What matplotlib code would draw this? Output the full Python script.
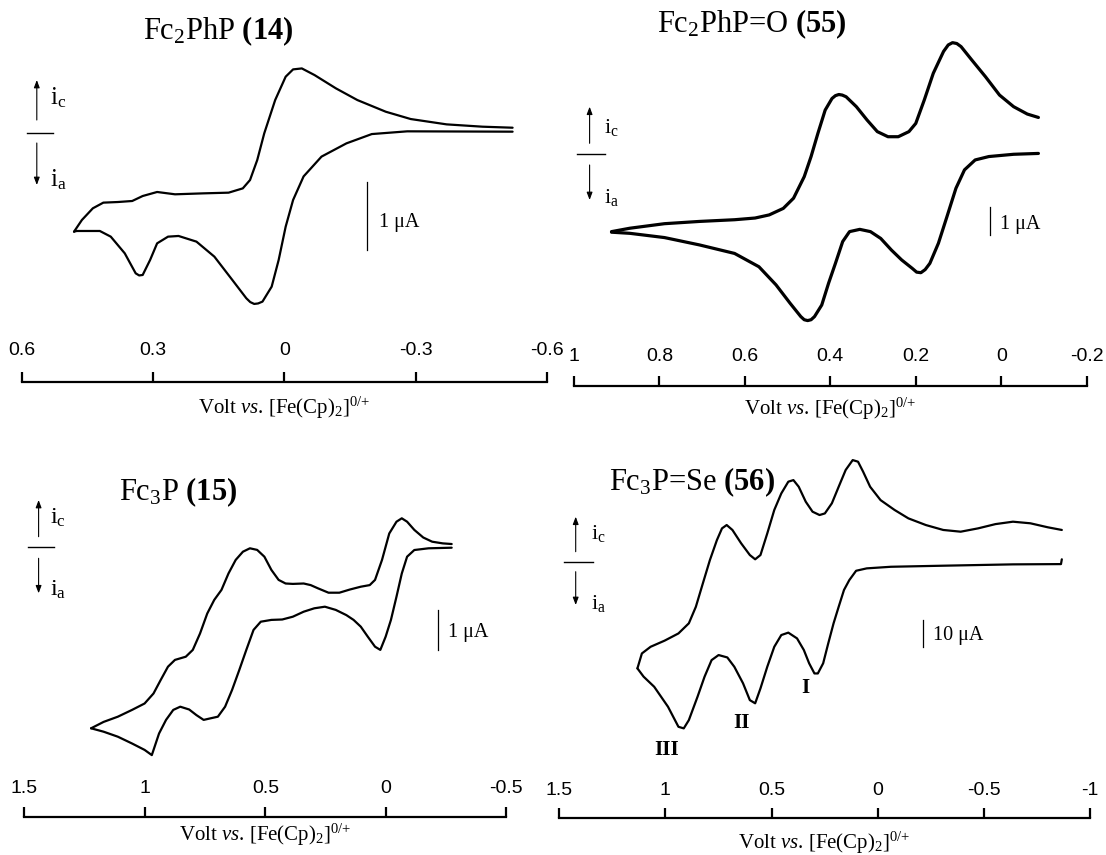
import matplotlib
matplotlib.use("Agg")
import matplotlib.pyplot as plt
from matplotlib import font_manager
from matplotlib.lines import Line2D
from matplotlib.patches import FancyArrowPatch
from matplotlib.transforms import blended_transform_factory, offset_copy

# ---------------- data: potential (V vs Fc/Fc+) and current (uA) ----------------
# Fc2PhP (14): oxidative sweep (lower trace) and return sweep (upper trace)
fc2php_ox_e = [-0.522, -0.281, -0.20, -0.142, -0.085, -0.044, -0.02, -0.003, 0.013, 0.029,
               0.05, 0.06, 0.069, 0.078, 0.087, 0.119, 0.16, 0.201, 0.242, 0.266, 0.291,
               0.307, 0.324, 0.332, 0.34, 0.365, 0.397, 0.422, 0.475, 0.481]
fc2php_ox_i = [0.015, 0.02, -0.02, -0.156, -0.35, -0.64, -0.985, -1.376, -1.863, -2.254,
               -2.473, -2.50, -2.507, -2.48, -2.424, -2.156, -1.815, -1.595, -1.512, -1.522, -1.62,
               -1.863, -2.083, -2.09, -2.059, -1.766, -1.522, -1.439, -1.439, -1.449]
fc2php_red_e = [0.481, 0.463, 0.438, 0.414, 0.381, 0.348, 0.324, 0.291, 0.25, 0.185, 0.1275,
                0.095, 0.0785, 0.062, 0.046, 0.021, -0.003, -0.02, -0.04, -0.069, -0.118,
                -0.167, -0.232, -0.289, -0.371, -0.453, -0.522]
fc2php_red_i = [-1.449, -1.278, -1.107, -1.024, -1.015, -1.0, -0.927, -0.868, -0.902, -0.888,
                -0.878, -0.815, -0.693, -0.4, -0.01, 0.478, 0.82, 0.927, 0.941, 0.844, 0.649,
                0.478, 0.307, 0.2, 0.122, 0.088, 0.073]

# Fc2PhP=O (55)
fc2ppo_red_e = [0.912, 0.869, 0.788, 0.706, 0.624, 0.576, 0.543, 0.51, 0.486, 0.461, 0.445,
                0.429, 0.412, 0.396, 0.388, 0.38, 0.372, 0.363, 0.339, 0.314, 0.29, 0.265,
                0.241, 0.216, 0.20, 0.18, 0.159, 0.135, 0.124, 0.114, 0.104, 0.094, 0.069,
                0.037, 0.004, -0.029, -0.061, -0.087]
fc2ppo_red_i = [-2.74, -2.62, -2.46, -2.38, -2.32, -2.26, -2.15, -1.92, -1.56, -0.80, -0.09,
                0.73, 1.55, 1.96, 2.06, 2.10, 2.08, 2.02, 1.67, 1.20, 0.79, 0.61,
                0.61, 0.79, 1.08, 1.91, 2.85, 3.62, 3.85, 3.93, 3.90, 3.79, 3.32,
                2.73, 2.08, 1.67, 1.41, 1.29]
fc2ppo_ox_e = [-0.087, -0.029, 0.029, 0.061, 0.086, 0.106, 0.127, 0.147, 0.167, 0.178, 0.188,
               0.198, 0.208, 0.233, 0.257, 0.282, 0.306, 0.331, 0.355, 0.371, 0.388, 0.404,
               0.42, 0.437, 0.445, 0.453, 0.461, 0.469, 0.494, 0.527, 0.567, 0.624, 0.706,
               0.788, 0.869, 0.912]
fc2ppo_ox_i = [0.02, -0.01, -0.09, -0.21, -0.56, -1.21, -2.21, -3.15, -3.86, -4.08, -4.19,
               -4.17, -4.04, -3.74, -3.39, -2.98, -2.74, -2.66, -2.74, -3.09, -3.86, -4.56,
               -5.33, -5.74, -5.85, -5.88, -5.85, -5.74, -5.27, -4.62, -3.98, -3.51, -3.21,
               -2.95, -2.80, -2.76]

# Fc3P (15)
fc3p_red_e = [1.223, 1.171, 1.112, 1.053, 1.001, 0.964, 0.934, 0.904, 0.875, 0.830, 0.801,
              0.771, 0.741, 0.712, 0.682, 0.653, 0.623, 0.593, 0.564, 0.534, 0.504, 0.475,
              0.445, 0.416, 0.386, 0.341, 0.312, 0.282, 0.238, 0.193, 0.149, 0.104, 0.067,
              0.045, 0.016, -0.014, -0.044, -0.066, -0.088, -0.118, -0.155, -0.192, -0.236,
              -0.273]
fc3p_red_i = [-4.54, -4.38, -4.25, -4.08, -3.92, -3.67, -3.33, -3.0, -2.83, -2.75, -2.58,
              -2.17, -1.67, -1.33, -1.08, -0.67, -0.33, -0.125, -0.04, -0.08, -0.25, -0.58,
              -0.83, -0.92, -0.93, -0.92, -0.96, -1.04, -1.15, -1.15, -1.07, -1.0, -0.96,
              -0.83, -0.33, 0.33, 0.625, 0.71, 0.625, 0.42, 0.23, 0.125, 0.083,
              0.067]
fc3p_ox_e = [-0.273, -0.177, -0.118, -0.088, -0.066, -0.044, -0.021, 0.001, 0.023, 0.045,
             0.075, 0.104, 0.134, 0.164, 0.208, 0.253, 0.297, 0.341, 0.386, 0.430, 0.475,
             0.519, 0.549, 0.579, 0.608, 0.638, 0.667, 0.697, 0.727, 0.756, 0.786, 0.816,
             0.853, 0.882, 0.912, 0.941, 0.971, 1.001, 1.053, 1.112, 1.171, 1.223]
fc3p_ox_i = [-0.025, -0.04, -0.083, -0.25, -0.67, -1.25, -1.83, -2.25, -2.58, -2.5,
             -2.25, -2.0, -1.83, -1.71, -1.58, -1.5, -1.54, -1.625, -1.75, -1.82, -1.83,
             -1.875, -2.08, -2.58, -3.08, -3.58, -4.0, -4.25, -4.29, -4.33, -4.21, -4.07,
             -4.0, -4.08, -4.33, -4.67, -5.21, -5.08, -4.92, -4.75, -4.625, -4.54]

# Fc3P=Se (56)
fc3pse_red_e = [1.131, 1.11, 1.069, 1.003, 0.938, 0.889, 0.856, 0.823, 0.79, 0.757, 0.733,
                0.711, 0.684, 0.643, 0.602, 0.577, 0.552, 0.52, 0.487, 0.454, 0.421, 0.397,
                0.372, 0.339, 0.307, 0.274, 0.249, 0.216, 0.184, 0.151, 0.118, 0.093, 0.069,
                0.036, -0.013, -0.079, -0.144, -0.226, -0.308, -0.39, -0.472, -0.554, -0.636,
                -0.718, -0.8, -0.866]
fc3pse_red_i = [-40, -34.4, -31.9, -29.6, -26.9, -23.1, -16.9, -8.1, 0.6, 8.1, 12.5,
                13.75, 11.9, 6.9, 2.5, 0.9, 2.5, 10.6, 19.4, 25.6, 30, 30.6,
                28.1, 22.5, 18.75, 17.5, 18.1, 21.9, 28.1, 34.4, 38.1, 37.5, 33.75,
                28.1, 23.1, 19.4, 16.25, 13.75, 11.9, 11.25, 12.5, 14.1, 15,
                14.4, 12.9, 11.9]
fc3pse_ox_e = [-0.866, -0.862, -0.636, -0.308, -0.062, 0.052, 0.102, 0.134, 0.159, 0.184,
               0.208, 0.233, 0.257, 0.282, 0.298, 0.323, 0.348, 0.38, 0.421, 0.454, 0.487,
               0.52, 0.552, 0.577, 0.602, 0.634, 0.675, 0.708, 0.749, 0.782, 0.815, 0.848,
               0.889, 0.913, 0.938, 0.987, 1.052, 1.102, 1.131]
fc3pse_ox_i = [0.9, -0.9, -1.0, -1.5, -1.9, -2.5, -3.4, -6.9, -10.6, -16.9,
               -23.1, -30.6, -38.1, -41.9, -41.9, -38.1, -33.1, -28.75, -26.6, -27.5, -31.9,
               -39.4, -47.5, -53.1, -51.9, -45.6, -39.4, -35.9, -35, -36.9, -43.1, -50.6,
               -59.4, -62.5, -61.9, -54.4, -46.9, -43.1, -40]

titles = [r"Fc$_2$PhP $\mathbf{(14)}$", r"Fc$_2$PhP=O $\mathbf{(55)}$",
          r"Fc$_3$P $\mathbf{(15)}$", r"Fc$_3$P=Se $\mathbf{(56)}$"]
ticks = [[0.6, 0.3, 0, -0.3, -0.6],
         [1, 0.8, 0.6, 0.4, 0.2, 0, -0.2],
         [1.5, 1, 0.5, 0, -0.5],
         [1.5, 1, 0.5, 0, -0.5, -1]]
tick_labels = [["0.6", "0.3", "0", "-0.3", "-0.6"],
               ["1", "0.8", "0.6", "0.4", "0.2", "0", "-0.2"],
               ["1.5", "1", "0.5", "0", "-0.5"],
               ["1.5", "1", "0.5", "0", "-0.5", "-1"]]
scale_bar_ua = [1, 1, 1, 10]
wave_labels = ["III", "II", "I"]

# ---------------- styling ----------------
plt.rcParams['mathtext.fontset'] = 'custom'
plt.rcParams['mathtext.rm'] = 'Liberation Serif'
plt.rcParams['mathtext.it'] = 'Liberation Serif:italic'
plt.rcParams['mathtext.bf'] = 'Liberation Serif:bold'
plt.rcParams['font.family'] = ['Liberation Serif', 'DejaVu Serif']

installed = {f.name for f in font_manager.fontManager.ttflist}
if 'Liberation Sans Narrow' in installed:
    tick_font, tick_size = 'Liberation Sans Narrow', 16
else:
    tick_font, tick_size = 'Liberation Sans', 14

W, H = 1106, 855
fig = plt.figure(figsize=(W / 100, H / 100), dpi=100)
fig.patch.set_facecolor('white')


def fx(x):
    return x / W


def fy(y):
    return 1 - y / H


def arrow(x, y0, y1):
    fig.add_artist(FancyArrowPatch((fx(x), fy(y0)), (fx(x), fy(y1)),
                                   transform=fig.transFigure,
                                   arrowstyle='-|>,head_length=0.45,head_width=0.17',
                                   mutation_scale=10, lw=0.8, color='black',
                                   shrinkA=0, shrinkB=0))


# layout of each panel in figure pixels (origin top-left)
layout = [
    dict(left=22, right=546.7, axis_y=381.7, zero_y=132.7, ppu=68.3, top=8, tdy=31.5,
         xlab=(284, 408), title=(218, 31), ix=36.8, up=(120, 80), sep=(26.8, 52.9),
         down=(143, 185), itext=(50, 98, 180), isize=18, bar=(367, 250), bartext=(378.6, 223),
         lw=1.6),
    dict(left=573.9, right=1086.7, axis_y=386, zero_y=154, ppu=28.33, top=8, tdy=29.5,
         xlab=(830, 409), title=(752, 24), ix=589.6, up=(143.3, 106.7), sep=(577.4, 605.3),
         down=(165, 200), itext=(603.6, 127, 197), isize=16, bar=(989.6, 235),
         bartext=(999.7, 225), lw=2.3),
    dict(left=24.3, right=506.4, axis_y=816.7, zero_y=546.7, ppu=40, top=450, tdy=28.5,
         xlab=(265, 835), title=(178.6, 492), ix=38.6, up=(536.7, 500), sep=(27.9, 53.6),
         down=(558.3, 593.3), itext=(50, 518, 590), isize=17.5, bar=(437.5, 650),
         bartext=(448, 632), lw=1.6),
    dict(left=559, right=1090.3, axis_y=818, zero_y=561.7, ppu=2.667, top=440, tdy=27.5,
         xlab=(824.6, 843), title=(692.4, 482), ix=575.7, up=(551.7, 516.7), sep=(564.2, 593.1),
         down=(571.7, 605), itext=(591.4, 533, 603), isize=16, bar=(923, 646.7),
         bartext=(932.8, 635), lw=1.6),
]

curves = [
    [(fc2php_ox_e, fc2php_ox_i), (fc2php_red_e, fc2php_red_i)],
    [(fc2ppo_red_e, fc2ppo_red_i), (fc2ppo_ox_e, fc2ppo_ox_i)],
    [(fc3p_red_e, fc3p_red_i), (fc3p_ox_e, fc3p_ox_i)],
    [(fc3pse_red_e, fc3pse_red_i), (fc3pse_ox_e, fc3pse_ox_i)],
]

for k, L in enumerate(layout):
    ax = fig.add_axes([fx(L['left']), fy(L['axis_y']),
                       (L['right'] - L['left']) / W, (L['axis_y'] - L['top']) / H])
    ax.patch.set_alpha(0)
    ax.set_xlim(ticks[k][0], ticks[k][-1])
    ax.set_ylim(-(L['axis_y'] - L['zero_y']) / L['ppu'], (L['zero_y'] - L['top']) / L['ppu'])
    for e, cur in curves[k]:
        ax.plot(e, cur, color='black', lw=L['lw'], solid_joinstyle='round',
                solid_capstyle='round')
    for s in ('top', 'left', 'right'):
        ax.spines[s].set_visible(False)
    ax.spines['bottom'].set_linewidth(1.6)
    ax.set_yticks([])
    ax.set_xticks(ticks[k])
    ax.tick_params(axis='x', direction='in', length=7, width=1.6, labelbottom=False)

    # tick labels sit above the axis line
    trans = offset_copy(blended_transform_factory(ax.transData, ax.transAxes),
                        fig=fig, x=0, y=L['tdy'], units='dots')
    for v, s in zip(ticks[k], tick_labels[k]):
        ax.text(v, 0, s, transform=trans, ha='center', va='center',
                fontfamily=tick_font, fontsize=tick_size)

    fig.text(fx(L['xlab'][0]), fy(L['xlab'][1]),
             r"Volt $\mathit{vs}$. [Fe(Cp)$_2$]$^{0/{+}}$",
             ha='center', va='center', fontsize=15)
    fig.text(fx(L['title'][0]), fy(L['title'][1]), titles[k],
             ha='center', va='center', fontsize=22)

    # current direction key
    arrow(L['ix'], *L['up'])
    arrow(L['ix'], *L['down'])
    fig.add_artist(Line2D([fx(L['sep'][0]), fx(L['sep'][1])],
                          [fy(L['zero_y']), fy(L['zero_y'])],
                          transform=fig.transFigure, lw=1.0, color='black'))
    fig.text(fx(L['itext'][0]), fy(L['itext'][1]), r"i$_\mathrm{c}$",
             ha='left', va='center', fontsize=L['isize'])
    fig.text(fx(L['itext'][0]), fy(L['itext'][2]), r"i$_\mathrm{a}$",
             ha='left', va='center', fontsize=L['isize'])

    # current scale bar
    bx, by = L['bar']
    v0, i0 = ax.transData.inverted().transform((bx, H - by))
    ax.plot([v0, v0], [i0, i0 + scale_bar_ua[k]], color='black', lw=0.9)
    fig.text(fx(L['bartext'][0]), fy(L['bartext'][1]), f"{scale_bar_ua[k]} \u03bcA",
             ha='left', va='center', fontsize=14.5)

# oxidation waves of Fc3P=Se
for lab, (x, y) in zip(wave_labels, [(667, 750), (741, 723), (805.6, 688)]):
    fig.text(fx(x), fy(y), lab, ha='center', va='center', fontsize=15, fontweight='bold')

fig.savefig("out.png", dpi=100, facecolor='white')
